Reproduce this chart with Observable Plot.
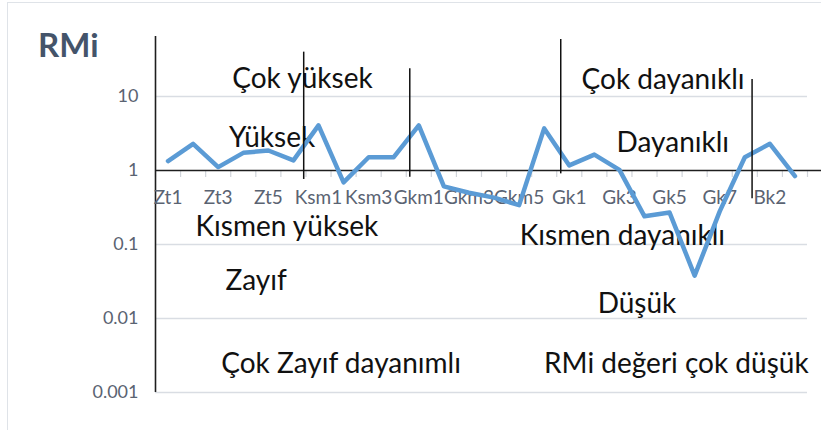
<!DOCTYPE html>
<html>
<head>
<meta charset="utf-8">
<script src="https://cdn.jsdelivr.net/npm/d3@7"></script>
<script src="https://cdn.jsdelivr.net/npm/@observablehq/plot@0.6"></script>
<style>
  html, body { margin: 0; padding: 0; background: #fff; overflow: hidden; }
  #wrap { position: relative; width: 821px; height: 430px; }
  #frame { position: absolute; left: 7px; top: 2px; width: 840px; height: 450px; border: 1px solid #dfe3e8; box-sizing: border-box; pointer-events: none; }
  #title { position: absolute; left: 38px; top: 28px; font: bold 33px Lato, sans-serif; line-height: 33px; color: #44546a; }
</style>
</head>
<body>
<div id="wrap">
  <div id="chart"></div>
  <div id="frame"></div>
  <div id="title">RMi</div>
</div>
<script>
// Categories (x axis)
const categories = ["Zt1","Zt2","Zt3","Zt4","Zt5","Zt6",
  "Ksm1","Ksm2","Ksm3","Ksm4",
  "Gkm1","Gkm2","Gkm3","Gkm4","Gkm5","Gkm6",
  "Gk1","Gk2","Gk3","Gk4","Gk5","Gk6","Gk7",
  "Bk1","Bk2","Bk3"];
// RMi values (log scale)
const rmi = [1.34, 2.29, 1.11, 1.73, 1.86, 1.37,
  4.06, 0.69, 1.51, 1.51,
  4.06, 0.61, 0.50, 0.43, 0.34, 3.7,
  1.17, 1.64, 1.02, 0.24, 0.27, 0.038, 0.28,
  1.51, 2.29, 0.84];
// Y tick values
const yTicks = [10, 1, 0.1, 0.01, 0.001];
// Divider lines (category-index position, top and bottom RMi values)
const dividerX = [5.41, 9.64, 15.66, 23.29];
const dividerTop = [39.7, 23.7, 58.9, 17.0];
const dividerBottom = [0.756, 0.81, 0.90, 0.414];
// Zone annotations (category-index position, RMi value at baseline)
const zoneLabels = ["Çok yüksek","Yüksek","Kısmen yüksek","Zayıf","Çok Zayıf dayanımlı",
  "Çok dayanıklı","Dayanıklı","Kısmen dayanıklı","Düşük","RMi değeri çok düşük"];
const zoneX = [5.36, 4.15, 4.74, 3.51, 6.90, 19.74, 20.13, 18.12, 18.70, 20.27];
const zoneY = [13.2, 2.05, 0.132, 0.0239, 0.00186, 12.8, 1.75, 0.097, 0.0117, 0.00186];

const data = categories.map((c, i) => ({i, c, v: rmi[i]}));
const labeled = data.filter(d => d.i % 2 === 0);
const boundaries = d3.range(categories.length + 1).map(k => k - 0.5);
const dividers = dividerX.map((x, k) => ({x, y1: dividerBottom[k], y2: dividerTop[k]}));
const zones = zoneLabels.map((t, k) => ({t, x: zoneX[k], y: zoneY[k]}));

const n = categories.length;
const chart = Plot.plot({
  width: 821,
  height: 430,
  marginLeft: 155,
  marginRight: 14,
  marginTop: 36,
  marginBottom: 38,
  style: {fontFamily: "Lato, sans-serif", background: "transparent"},
  x: {type: "linear", domain: [-0.5, n - 0.5], axis: null},
  y: {type: "log", domain: [0.001, 64.6], axis: null},
  marks: [
    Plot.gridY(yTicks.filter(t => t !== 1), {stroke: "#d9dde3", strokeOpacity: 1, strokeWidth: 1.5}),
    Plot.axisY(yTicks, {tickSize: 0, tickPadding: 17, fontSize: 18, fill: "#5a6372",
      tickFormat: d => String(d)}),
    Plot.ruleX(boundaries, {y1: 1, y2: 0.804, stroke: "#d0d4da", strokeWidth: 1.2}),
    Plot.ruleY([1], {x1: -0.5, x2: n + 0.06, stroke: "#1e1e1e", strokeWidth: 1.6}),
    Plot.ruleX([-0.5], {stroke: "#1e1e1e", strokeWidth: 1.6}),
    Plot.text(labeled, {x: "i", y: 1, text: "c", dy: 34, lineAnchor: "bottom",
      fontSize: 19, fill: "#5a6372"}),
    Plot.text(zones, {x: "x", y: "y", text: "t", lineAnchor: "bottom",
      fontSize: 28, fill: "#111"}),
    Plot.line(data, {x: "i", y: "v", stroke: "#5b9bd5", strokeWidth: 4.5,
      strokeLinejoin: "round", strokeLinecap: "round"}),
    Plot.ruleX(dividers, {x: "x", y1: "y1", y2: "y2", stroke: "#111", strokeWidth: 1.5})
  ]
});
document.getElementById("chart").appendChild(chart);
</script>
</body>
</html>
